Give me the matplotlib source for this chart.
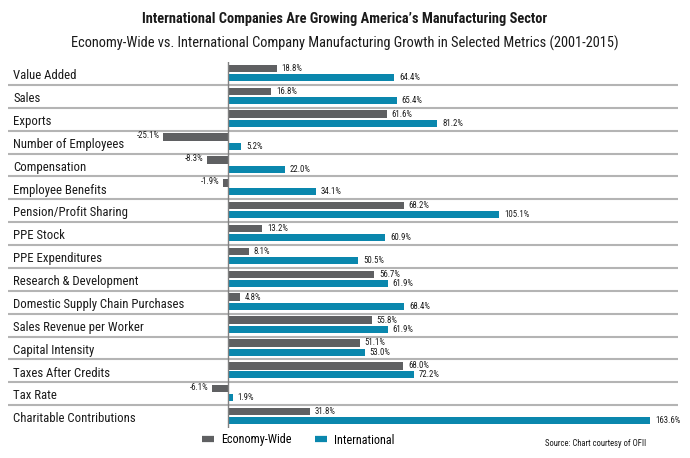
import matplotlib
matplotlib.use("Agg")
import matplotlib.pyplot as plt
from matplotlib.lines import Line2D

plt.rcParams['font.family'] = ['Roboto Condensed', 'DejaVu Sans Condensed', 'Liberation Sans Narrow',
                               'Open Sans Condensed', 'Roboto', 'DejaVu Sans']
plt.rcParams['font.stretch'] = 'condensed'

categories = ["Value Added", "Sales", "Exports", "Number of Employees", "Compensation",
              "Employee Benefits", "Pension/Profit Sharing", "PPE Stock", "PPE Expenditures",
              "Research & Development", "Domestic Supply Chain Purchases",
              "Sales Revenue per Worker", "Capital Intensity", "Taxes After Credits",
              "Tax Rate", "Charitable Contributions"]
economy_wide = [18.8, 16.8, 61.6, -25.1, -8.3, -1.9, 68.2, 13.2, 8.1, 56.7, 4.8, 55.8, 51.1, 68.0, -6.1, 31.8]
international = [64.4, 65.4, 81.2, 5.2, 22.0, 34.1, 105.1, 60.9, 50.5, 61.9, 68.4, 61.9, 53.0, 72.2, 1.9, 163.6]
series_names = ["Economy-Wide", "International"]

GRAY = '#5f6062'
BLUE = '#0a87ad'

W, H = 690, 458
fig = plt.figure(figsize=(W / 100, H / 100), dpi=100)
left_px, right_px, top_px, bot_px = 8, 678, 62, 428
ax = fig.add_axes([left_px / W, 1 - bot_px / H, (right_px - left_px) / W, (bot_px - top_px) / H])

zero_px = 228
scale = 2.58
ax.set_xlim((left_px - zero_px) / scale, (right_px - zero_px) / scale)
n = len(categories)
ax.set_ylim(n, 0)
ax.axis('off')

ys = list(range(n))
g_y = [y + 0.28 for y in ys]
b_y = [y + 0.68 for y in ys]
ax.barh(g_y, economy_wide, height=0.33, color=GRAY, zorder=2)
ax.barh(b_y, international, height=0.31, color=BLUE, zorder=2)

for i in range(1, n):
    ax.axhline(i, color='#b4b4b4', lw=1.5, zorder=1)
ax.axvline(0, color='#808080', lw=1.0, zorder=3)

for i, cat in enumerate(categories):
    ax.text((13 - zero_px) / scale, i + 0.6, cat, ha='left', va='center',
            fontsize=9.2, color='#1a1a1a')

def label(v, y):
    if v >= 0:
        ax.annotate(f"{v:.1f}%", (v, y), xytext=(3.5, 0), textcoords='offset points',
                    ha='left', va='center', fontsize=6.3, color='#1a1a1a')
    else:
        ax.annotate(f"{v:.1f}%", (v, y), xytext=(-2.5, 1), textcoords='offset points',
                    ha='right', va='center', fontsize=6.3, color='#1a1a1a')

for v, y in zip(economy_wide, g_y):
    label(v, y)
for v, y in zip(international, b_y):
    label(v, y)

fig.text(0.5, 1 - 19 / H, "International Companies Are Growing America\u2019s Manufacturing Sector",
         ha='center', va='center', fontsize=10.4, fontweight='bold', color='#1a1a1a')
fig.text(0.5, 1 - 43 / H, "Economy-Wide vs. International Company Manufacturing Growth in Selected Metrics (2001-2015)",
         ha='center', va='center', fontsize=10.4, color='#1a1a1a')

handles = [Line2D([], [], color=GRAY, lw=4.5, solid_capstyle='butt'),
           Line2D([], [], color=BLUE, lw=4.5, solid_capstyle='butt')]
fig.legend(handles, series_names, loc='center', bbox_to_anchor=(298 / W, 1 - 440 / H),
           ncol=2, frameon=False, fontsize=8.7, handlelength=1.0, handletextpad=0.58,
           columnspacing=1.9)

fig.text(545 / W, 1 - 443 / H, "Source: Chart courtesy of OFII", ha='left', va='center',
         fontsize=6.2, color='#1a1a1a')

fig.savefig("out.png", dpi=100)
